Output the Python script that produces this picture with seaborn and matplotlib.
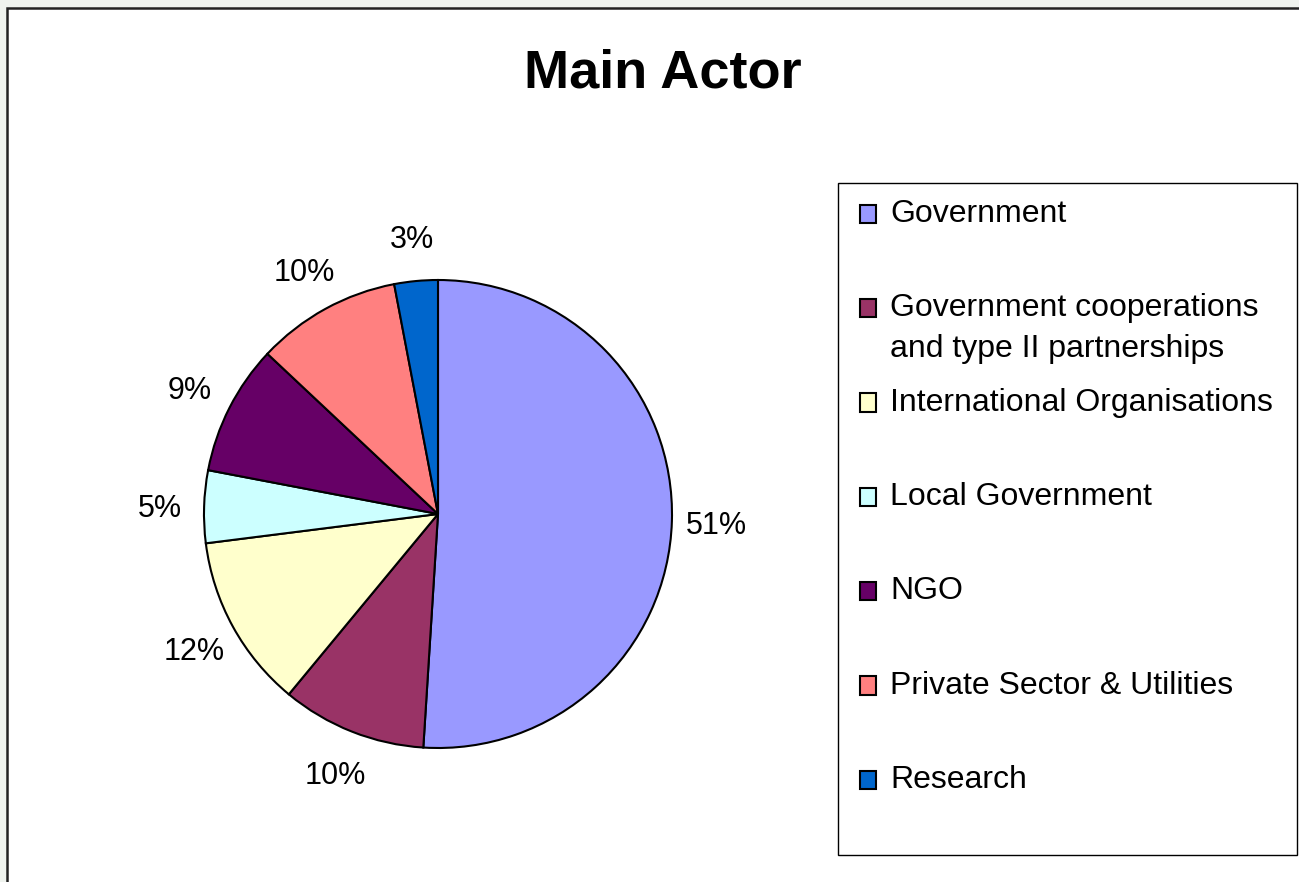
import matplotlib
matplotlib.use("Agg")
import matplotlib.pyplot as plt
from matplotlib.patches import Rectangle
from matplotlib.legend_handler import HandlerPatch
import seaborn as sns

# chart data
actors = [
    "Government",
    "Government cooperations\nand type II partnerships",
    "International Organisations",
    "Local Government",
    "NGO",
    "Private Sector & Utilities",
    "Research",
]
shares = [51, 10, 12, 5, 9, 10, 3]
colors = ["#9999FF", "#993366", "#FFFFCC", "#CCFFFF", "#660066", "#FF8080", "#0066CC"]

sns.set_style("white")
plt.rcParams["font.family"] = ["Liberation Sans", "DejaVu Sans"]
plt.rcParams["text.color"] = "black"

W, H = 1299, 882
fig = plt.figure(figsize=(W / 100, H / 100), dpi=100)
fig.patch.set_facecolor("#EFF3EE")

# white chart area with dark border (extends past right/bottom edge)
fig.patches.append(Rectangle((7 / W, -0.05), 1.1, 1 - 8 / H + 0.05,
                             transform=fig.transFigure, facecolor="white",
                             edgecolor="#222222", lw=1.8, zorder=-3))

# legend box
fig.patches.append(Rectangle((838 / W, 1 - 855 / H), (1297 - 838) / W, (855 - 183) / H,
                             transform=fig.transFigure, facecolor="white",
                             edgecolor="black", lw=1.0, zorder=-2))

fig.text(663 / W, 1 - 74 / H, "Main Actor", ha="center", va="center",
         fontsize=39, fontweight="bold", color="black")

# pie axes: centre (438, 514), radius 234 px
ax = fig.add_axes([204 / W, (H - 748) / H, 468 / W, 468 / H])
ax.patch.set_alpha(0)
wedges, _, pcts = ax.pie(
    shares, colors=colors, startangle=90, counterclock=False,
    autopct=lambda p: f"{p:.0f}%", pctdistance=1.19,
    wedgeprops=dict(edgecolor="black", linewidth=1.5),
    textprops=dict(fontsize=22, color="black"),
)
for t in pcts:
    t.set_va("center_baseline")
ax.set_xlim(-1, 1)
ax.set_ylim(-1, 1)


# Excel-style legend: every entry two lines tall, marker beside the first line
def top_square(legend, orig_handle, xdescent, ydescent, width, height, fontsize):
    return Rectangle((-xdescent, -ydescent + 0.64 * fontsize), width, height)


legend_labels = [a if "\n" in a else a + "\n" for a in actors]
leg = fig.legend(wedges, legend_labels, loc="upper left",
                 bbox_to_anchor=(860 / W, 1 - 199 / H), bbox_transform=fig.transFigure,
                 frameon=False, fontsize=23, borderpad=0, borderaxespad=0,
                 handlelength=0.5, handleheight=0.5, handletextpad=0.45,
                 labelspacing=0.75,
                 handler_map={w: HandlerPatch(patch_func=top_square) for w in wedges})
for t in leg.get_texts():
    t.set_linespacing(1.45)

fig.savefig("out.png", dpi=100, facecolor=fig.get_facecolor())
